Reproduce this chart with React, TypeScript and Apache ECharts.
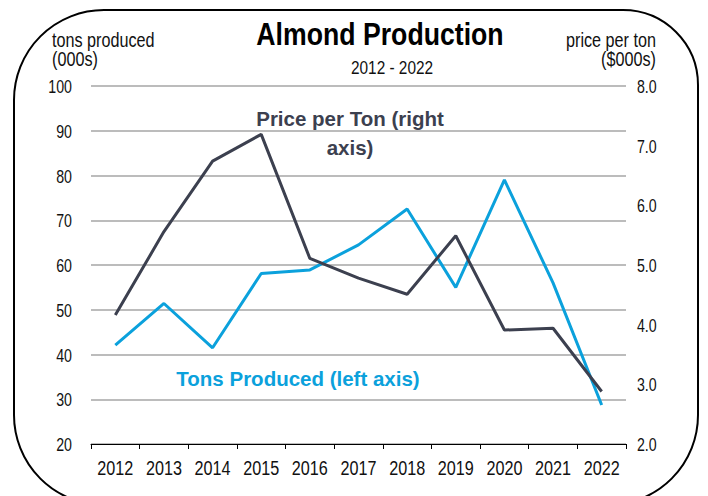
import React, { useEffect, useRef } from "react";
import * as echarts from "echarts";

const years = ["2012", "2013", "2014", "2015", "2016", "2017", "2018", "2019", "2020", "2021", "2022"];
const tonsProduced = [42.1, 51.4, 41.5, 58.1, 58.9, 64.5, 72.5, 55.0, 79.0, 56.0, 28.7];
const pricePerTon = [4.16, 5.56, 6.74, 7.19, 5.11, 4.78, 4.51, 5.49, 3.91, 3.94, 2.88];
const leftTicks = [20, 30, 40, 50, 60, 70, 80, 90, 100];
const rightTicks = [2, 3, 4, 5, 6, 7, 8];

const FONT = "'Liberation Sans', Arial, sans-serif";
const BLUE = "#0ba1dc";
const DARK = "#3c404f";
const NARROW = 0.81;

export default function App() {
  const ref = useRef<HTMLDivElement>(null);
  useEffect(() => {
    if (!ref.current) return;
    const chart = echarts.init(ref.current, null, { renderer: "svg" });
    chart.setOption({
      animation: false,
      backgroundColor: "#ffffff",
      textStyle: { fontFamily: FONT },
      grid: { left: 91, right: 82, top: 86, bottom: 52, containLabel: false },
      xAxis: {
        type: "category",
        data: years,
        boundaryGap: true,
        axisLine: { lineStyle: { color: "#000", width: 1 } },
        axisTick: { show: true, length: 5, lineStyle: { color: "#000" } },
        axisLabel: { show: false },
      },
      yAxis: [
        {
          type: "value",
          min: leftTicks[0],
          max: leftTicks[leftTicks.length - 1],
          interval: 10,
          position: "left",
          axisLine: { show: false },
          axisTick: { show: false },
          axisLabel: { show: false },
          splitLine: { show: true, lineStyle: { color: "#a6a6a6", width: 1.5 } },
        },
        {
          type: "value",
          min: rightTicks[0],
          max: rightTicks[rightTicks.length - 1],
          interval: 1,
          position: "right",
          axisLine: { show: false },
          axisTick: { show: false },
          axisLabel: { show: false },
          splitLine: { show: false },
        },
      ],
      series: [
        {
          name: "Tons Produced",
          type: "line",
          yAxisIndex: 0,
          data: tonsProduced,
          showSymbol: false,
          lineStyle: { color: BLUE, width: 3 },
          itemStyle: { color: BLUE },
          z: 3,
        },
        {
          name: "Price per Ton",
          type: "line",
          yAxisIndex: 1,
          data: pricePerTon,
          showSymbol: false,
          lineStyle: { color: DARK, width: 3 },
          itemStyle: { color: DARK },
          z: 4,
        },
      ],
    });

    const narrowText = (
      text: string,
      x: number,
      y: number,
      fontSize: number,
      align: string,
      extra: any = {}
    ) => ({
      type: "text",
      x,
      y,
      scaleX: NARROW,
      style: {
        text,
        fontSize,
        fontFamily: FONT,
        fill: "#111",
        align,
        verticalAlign: "middle",
        ...extra,
      },
    });

    const labels: any[] = [];
    years.forEach((yr) => {
      const px = chart.convertToPixel({ xAxisIndex: 0 }, yr) as number;
      labels.push(narrowText(yr, px, 468, 20, "center"));
    });
    leftTicks.forEach((v) => {
      const py = chart.convertToPixel({ yAxisIndex: 0 }, v) as number;
      labels.push(narrowText(String(v), 72, py + 1, 17.5, "right"));
    });
    rightTicks.forEach((v) => {
      const py = chart.convertToPixel({ yAxisIndex: 1 }, v) as number;
      labels.push(narrowText(v.toFixed(1), 637, py + 1, 17.5, "left"));
    });

    chart.setOption({
      graphic: [
        {
          type: "rect",
          shape: { x: 14, y: 10, width: 684, height: 495, r: [90, 75, 90, 90] },
          style: { fill: "none", stroke: "#000", lineWidth: 2 },
          silent: true,
          z: 10,
        },
        {
          type: "text",
          x: 380,
          y: 34,
          scaleX: 0.86,
          style: {
            text: "Almond Production",
            fontSize: 31,
            fontWeight: "bold",
            fontFamily: FONT,
            fill: "#000",
            align: "center",
            verticalAlign: "middle",
          },
        },
        narrowText("2012 - 2022", 392, 67, 19, "center"),
        narrowText("tons produced\n(000s)", 52, 50, 20, "left", { lineHeight: 19 }),
        narrowText("price per ton\n($000s)", 656, 50, 20, "right", { lineHeight: 19 }),
        ...labels,
        {
          type: "text",
          x: 350,
          y: 133,
          style: {
            text: "Price per Ton (right\naxis)",
            fontSize: 20.5,
            lineHeight: 29,
            fontWeight: "bold",
            fontFamily: FONT,
            fill: DARK,
            align: "center",
            verticalAlign: "middle",
          },
        },
        {
          type: "text",
          x: 298,
          y: 378,
          style: {
            text: "Tons Produced (left axis)",
            fontSize: 20.5,
            fontWeight: "bold",
            fontFamily: FONT,
            fill: BLUE,
            align: "center",
            verticalAlign: "middle",
          },
        },
      ],
    });
    return () => chart.dispose();
  }, []);
  return <div ref={ref} style={{ width: 708, height: 496, position: "absolute", left: 0, top: 0 }} />;
}
